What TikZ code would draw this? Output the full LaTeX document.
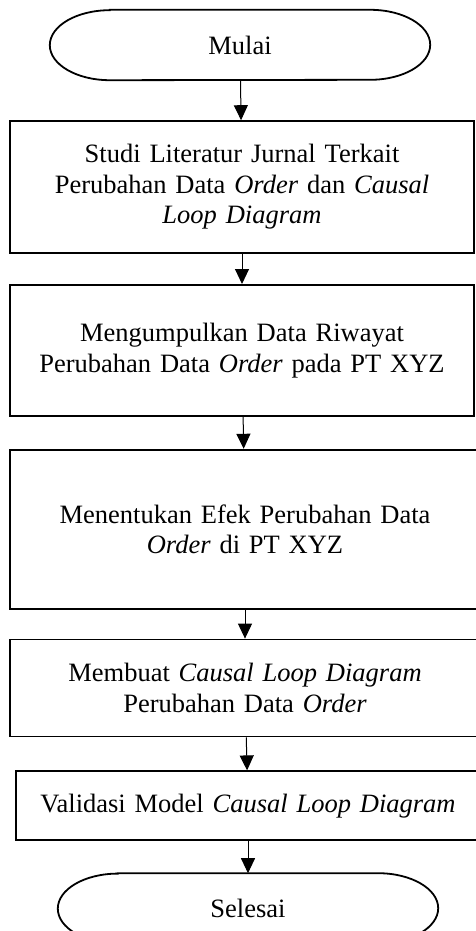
\documentclass[tikz,border=0pt]{standalone}
\usepackage{fontspec}
\setmainfont{Liberation Serif}
\usepackage{tikz}
\usetikzlibrary{arrows.meta,positioning}
\tikzset{
  stepbox/.style={draw,line width=1.8pt,align=center,inner sep=0pt,
    minimum width=464pt,text width=450pt},
  termbox/.style={align=center,inner sep=0pt,minimum width=380pt,minimum height=70pt},
  termline/.style={line width=1.8pt},
  flowarr/.style={-{Triangle[length=15pt,width=14pt]},line width=1pt},
}

\begin{document}
\begin{tikzpicture}[x=1pt,y=1pt,every node/.style={font=\fontsize{26.5}{30.5}\selectfont}]
\useasboundingbox (0,0) rectangle (475,-931);
\node[termbox] (st) at (240,-45) {Mulai};
\node[stepbox,minimum height=132pt,below=40pt of st,xshift=2pt] (lit) {Studi Literatur Jurnal Terkait\\Perubahan Data \textit{Order} dan \textit{Causal}\\\textit{Loop Diagram}};
\node[stepbox,minimum height=131pt,below=30pt of lit] (data) {Mengumpulkan Data Riwayat\\Perubahan Data \textit{Order} pada PT XYZ};
\node[stepbox,minimum height=159pt,minimum width=470pt,below=32pt of data,xshift=3pt] (efek) {Menentukan Efek Perubahan Data\\\textit{Order} di PT XYZ};
\node[stepbox,minimum height=97pt,minimum width=470pt,below=29pt of efek] (cld) {Membuat \textit{Causal Loop Diagram}\\Perubahan Data \textit{Order}};
\node[stepbox,minimum height=69pt,below=33pt of cld,xshift=3pt] (val) {Validasi Model \textit{Causal Loop Diagram}};
\node[termbox,below=32pt of val] (fin) {Selesai};
% terminator outlines
\foreach \t in {st,fin}
  \draw[termline] ([xshift=60pt]\t.north west) -- ([xshift=-60pt]\t.north east)
    arc[start angle=90,end angle=-90,x radius=60pt,y radius=35pt]
    -- ([xshift=60pt]\t.south west)
    arc[start angle=270,end angle=90,x radius=60pt,y radius=35pt] -- cycle;
\draw[flowarr] (st) -- (lit);
\draw[flowarr] (lit) -- (data);
\draw[flowarr] (data) -- (efek);
\draw[flowarr] (efek) -- (cld);
\draw[flowarr] (cld) -- (val);
\draw[flowarr] (val) -- (fin);
\end{tikzpicture}
\end{document}
